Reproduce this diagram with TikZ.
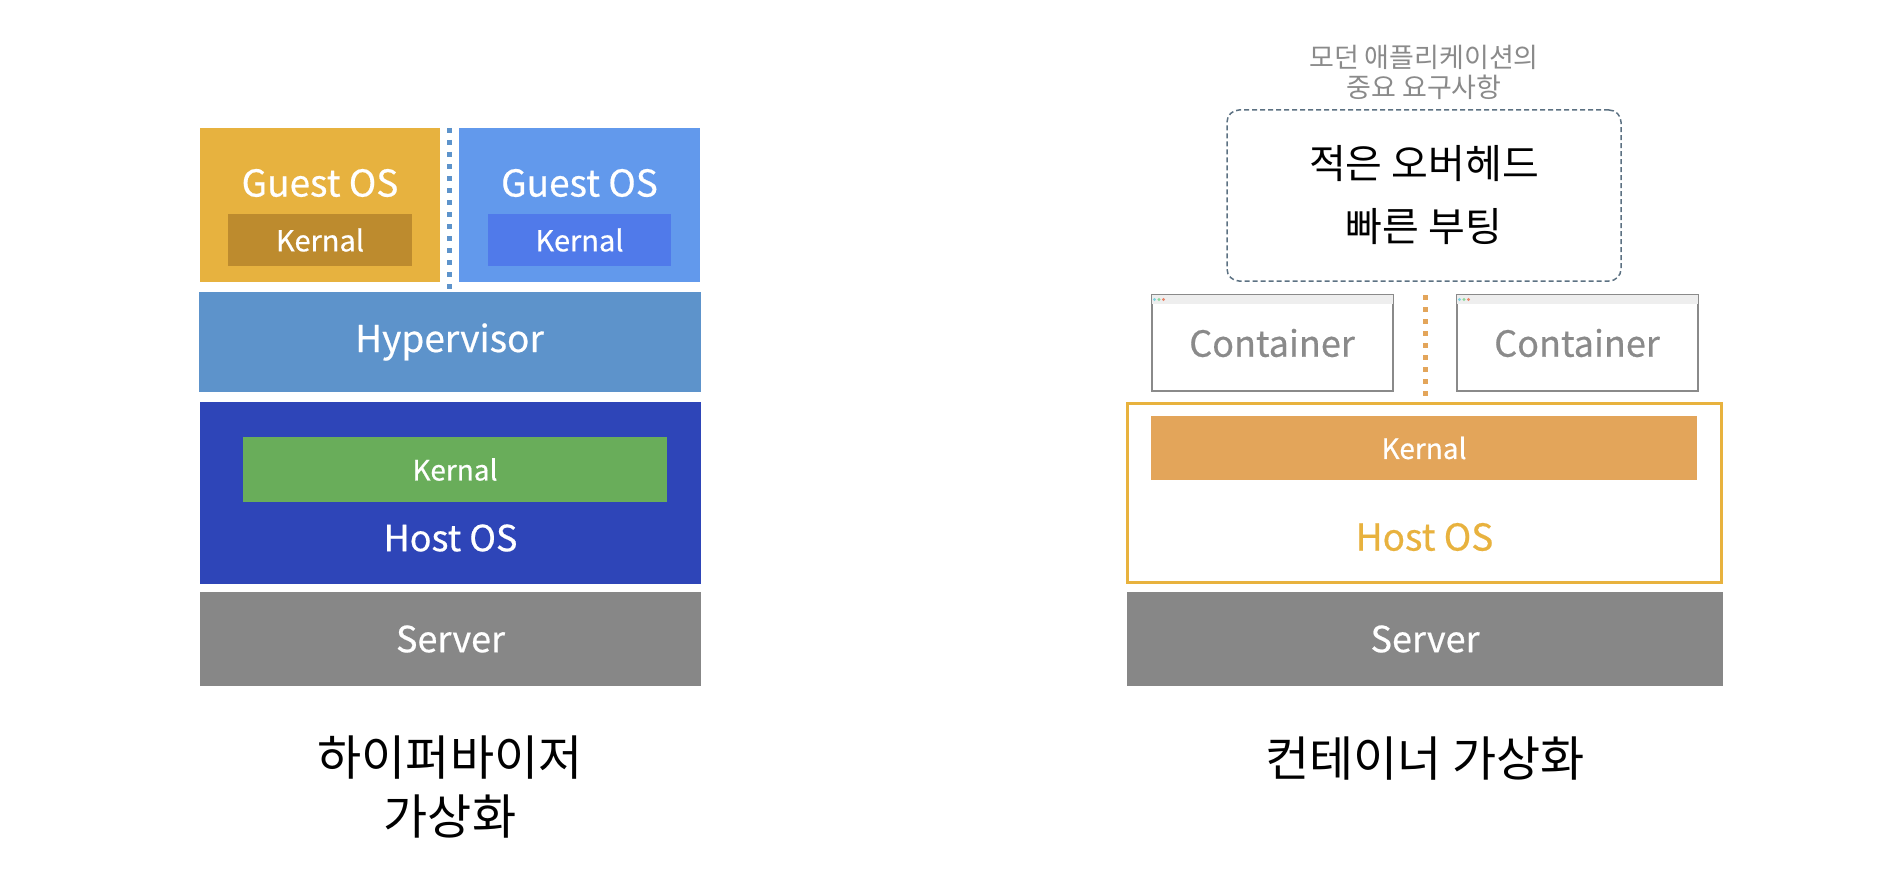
\documentclass[tikz,border=0pt]{standalone}
\usepackage{fontspec}
\setmainfont{Noto Sans CJK KR}
\newfontfamily\labfont{Noto Sans CJK KR}[BoldFont={Noto Sans CJK KR}, BoldFeatures={FakeBold=0.5}]
\usetikzlibrary{positioning}

\definecolor{guestgold}{HTML}{E7B23F}
\definecolor{kerngold}{HTML}{BD8B2E}
\definecolor{guestblue}{HTML}{6299EC}
\definecolor{kernblue}{HTML}{507AEA}
\definecolor{hyperblue}{HTML}{5D93CB}
\definecolor{hostnavy}{HTML}{2E45B8}
\definecolor{kerngreen}{HTML}{69AD5A}
\definecolor{servergray}{HTML}{878787}
\definecolor{hostgold}{HTML}{E8B23E}
\definecolor{kernorange}{HTML}{E3A55A}
\definecolor{contgray}{HTML}{8A8A8A}
\definecolor{bargray}{HTML}{EEEEEE}
\definecolor{slate}{HTML}{5C7182}
\definecolor{dotcyan}{HTML}{7FD3E0}
\definecolor{dotgreen}{HTML}{8ED89A}
\definecolor{dotred}{HTML}{E8856A}

\newcommand\fs[1]{\fontsize{#1}{#1}\selectfont\labfont\bfseries}

\tikzset{
  layer/.style={rectangle, draw=none, inner sep=0pt, text=white},
  contbox/.style={rectangle, draw=contgray, line width=2pt, fill=white,
    minimum width=241pt, minimum height=96pt, inner sep=0pt},
  sepdots/.style={line width=5pt, dash pattern=on 5pt off 7pt},
}

\begin{document}
\begin{tikzpicture}[x=1pt, y=-1pt]
        \useasboundingbox (0,0) rectangle (1890,888);

        % hypervisor side
        \node (guestL) at (320,205) [layer, fill=guestgold, minimum width=240pt, minimum height=154pt] {};
        \node (guestLtxt) at (320,183) [text=white] {\fs{37}Guest OS};
        \node (kernL) at (320,240) [layer, fill=kerngold, minimum width=184pt, minimum height=52pt] {\fs{29}Kernal};

        \node (guestR) at (579.5,205) [layer, fill=guestblue, minimum width=241pt, minimum height=154pt] {};
        \node (guestRtxt) at (579.5,183) [text=white] {\fs{37}Guest OS};
        \node (kernR) at (579.5,240) [layer, fill=kernblue, minimum width=183pt, minimum height=52pt] {\fs{29}Kernal};

        \node (hyper) at (449.5,342) [layer, fill=hyperblue, minimum width=502pt, minimum height=100pt] {\fs{37}Hypervisor};

        \coordinate (gapTop) at (449,128);
        \draw[sepdots, hyperblue] (gapTop) -- (gapTop |- hyper.north);

        \node (hostL) at (450.5,493) [layer, fill=hostnavy, minimum width=501pt, minimum height=182pt] {};
        \node (kernG) at (455,469.5) [layer, fill=kerngreen, minimum width=424pt, minimum height=65pt] {\fs{28}Kernal};
        \node (hostLtxt) at (450.5,538) [text=white] {\fs{36}Host OS};

        \node (serverL) at (450.5,639) [layer, fill=servergray, minimum width=501pt, minimum height=94pt] {\fs{36}Server};

        \node (hvLabel) at (450,787) [align=center, font=\fontsize{48}{59}\selectfont] {하이퍼바이저\\가상화};

        % container side
        \node (needsHead) at (1424,72) [align=center, text=contgray, font=\fontsize{27}{30}\selectfont] {모던 애플리케이션의\\중요 요구사항};
        \node (needs) at (1424,195.5) [draw=slate, line width=1.5pt, dash pattern=on 5pt off 3pt, rounded corners=12pt,
          minimum width=394pt, minimum height=171pt, align=center, font=\fontsize{40}{63}\selectfont] {적은 오버헤드\\빠른 부팅};

        \node (contL) at (1272,343) [contbox] {\fs{36}\textcolor{contgray}{Container}};
        \node (contR) at (1577,343) [contbox] {\fs{36}\textcolor{contgray}{Container}};
        \foreach \c in {contL, contR} {
          \fill[bargray] ([xshift=1pt,yshift=-1pt]\c.north west) rectangle ([xshift=-1pt,yshift=-10pt]\c.north east);
          \fill[dotcyan]  ([xshift=4pt,yshift=-5.5pt]\c.north west) circle (1.7pt);
          \fill[dotgreen] ([xshift=8.5pt,yshift=-5.5pt]\c.north west) circle (1.7pt);
          \fill[dotred]   ([xshift=13pt,yshift=-5.5pt]\c.north west) circle (1.7pt);
        }

        \node (hostR) at (1424.5,493) [layer, draw=hostgold, line width=3pt, fill=white, minimum width=594pt, minimum height=179pt] {};
        \node (kernO) at (1424,448) [layer, fill=kernorange, minimum width=546pt, minimum height=64pt] {\fs{28}Kernal};
        \node (hostRtxt) at (1424.5,537) [text=hostgold] {\fs{37}Host OS};

        \coordinate (ctTop) at (1425,295);
        \draw[sepdots, kernorange] (ctTop) -- (ctTop |- hostR.north);

        \node (serverR) at (1425,639) [layer, fill=servergray, minimum width=596pt, minimum height=94pt] {\fs{36}Server};

        \node (ctLabel) at (1425,759) [font=\fontsize{48}{48}\selectfont] {컨테이너 가상화};
      \end{tikzpicture}
\end{document}
